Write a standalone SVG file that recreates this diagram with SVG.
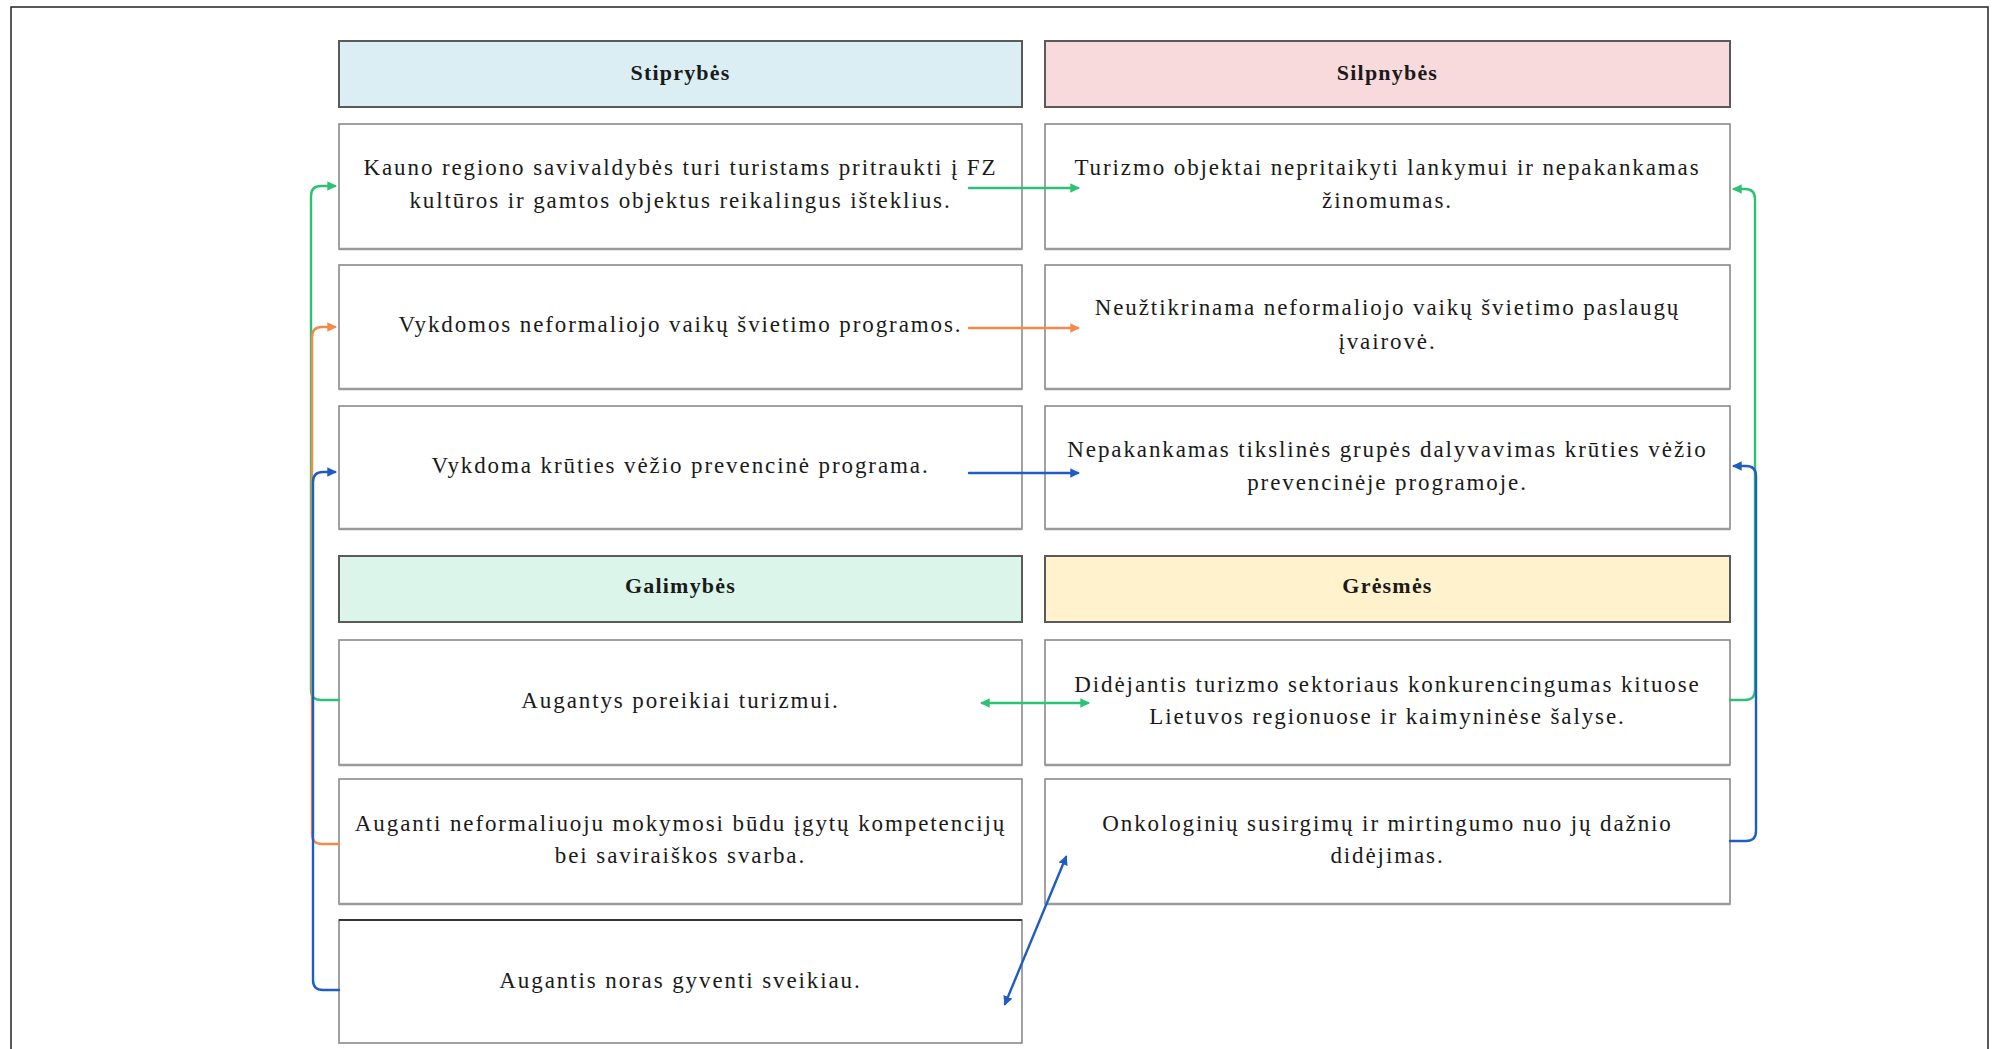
<svg xmlns="http://www.w3.org/2000/svg" width="2000" height="1049" viewBox="0 0 2000 1049">
<style>
.box{fill:#ffffff;stroke:#8a8a8a;stroke-width:1.6}
.shadow{stroke:#9a9a9a;stroke-width:2.5}
.hdr{stroke:#5a5a5a;stroke-width:2}
.t{font-family:"Liberation Serif","Times New Roman",serif;font-size:23px;letter-spacing:1.9px;fill:#1a1a1a;text-anchor:middle}
.h{font-family:"Liberation Serif","Times New Roman",serif;font-size:22px;letter-spacing:1.2px;font-weight:bold;fill:#1a1a1a;text-anchor:middle}
.c{fill:none;stroke-width:2.4;stroke-linecap:round;stroke-linejoin:round}
.g{stroke:#2cc275}
.o{stroke:#f5894a}
.b{stroke:#1f5cc4}
</style>
<defs>
<marker id="ag" viewBox="0 0 10 10" refX="8" refY="5" markerWidth="4" markerHeight="4" orient="auto-start-reverse" markerUnits="strokeWidth"><path d="M0,0 L10,5 L0,10 z" fill="#2cc275"/></marker>
<marker id="ao" viewBox="0 0 10 10" refX="8" refY="5" markerWidth="4" markerHeight="4" orient="auto-start-reverse" markerUnits="strokeWidth"><path d="M0,0 L10,5 L0,10 z" fill="#f5894a"/></marker>
<marker id="ab" viewBox="0 0 10 10" refX="8" refY="5" markerWidth="4" markerHeight="4" orient="auto-start-reverse" markerUnits="strokeWidth"><path d="M0,0 L10,5 L0,10 z" fill="#1f5cc4"/></marker>
</defs>
<rect width="2000" height="1049" fill="#ffffff"/>
<g id="frame" stroke="#222" stroke-width="1.5" fill="none">
<path d="M11 1049 V7 H1988 V1049"/>
</g>

<g id="h-stiprybes"><rect class="hdr" x="339" y="41" width="683" height="66" fill="#dbeef4"/><text class="h" x="680.5" y="80">Stiprybės</text></g>
<g id="h-silpnybes"><rect class="hdr" x="1045" y="41" width="685" height="66" fill="#f9dadc"/><text class="h" x="1387.5" y="80">Silpnybės</text></g>
<g id="h-galimybes"><rect class="hdr" x="339" y="556" width="683" height="66" fill="#dbf5ea"/><text class="h" x="680.5" y="593">Galimybės</text></g>
<g id="h-gresmes"><rect class="hdr" x="1045" y="556" width="685" height="66" fill="#fff2cc"/><text class="h" x="1387.5" y="593">Grėsmės</text></g>

<g id="s1"><rect class="box" x="339" y="124" width="683" height="125"/><line class="shadow" x1="339" y1="249" x2="1022" y2="249"/><text class="t" x="680.5" y="175">Kauno regiono savivaldybės turi turistams pritraukti į FZ</text><text class="t" x="680.5" y="208">kultūros ir gamtos objektus reikalingus išteklius.</text></g>
<g id="s2"><rect class="box" x="339" y="265" width="683" height="124"/><line class="shadow" x1="339" y1="389" x2="1022" y2="389"/><text class="t" x="680.5" y="332">Vykdomos neformaliojo vaikų švietimo programos.</text></g>
<g id="s3"><rect class="box" x="339" y="406" width="683" height="123"/><line class="shadow" x1="339" y1="529" x2="1022" y2="529"/><text class="t" x="680.5" y="473">Vykdoma krūties vėžio prevencinė programa.</text></g>

<g id="w1"><rect class="box" x="1045" y="124" width="685" height="125"/><line class="shadow" x1="1045" y1="249" x2="1730" y2="249"/><text class="t" x="1387.5" y="175">Turizmo objektai nepritaikyti lankymui ir nepakankamas</text><text class="t" x="1387.5" y="208">žinomumas.</text></g>
<g id="w2"><rect class="box" x="1045" y="265" width="685" height="124"/><line class="shadow" x1="1045" y1="389" x2="1730" y2="389"/><text class="t" x="1387.5" y="315">Neužtikrinama neformaliojo vaikų švietimo paslaugų</text><text class="t" x="1387.5" y="349">įvairovė.</text></g>
<g id="w3"><rect class="box" x="1045" y="406" width="685" height="123"/><line class="shadow" x1="1045" y1="529" x2="1730" y2="529"/><text class="t" x="1387.5" y="457">Nepakankamas tikslinės grupės dalyvavimas krūties vėžio</text><text class="t" x="1387.5" y="490">prevencinėje programoje.</text></g>

<g id="o1"><rect class="box" x="339" y="640" width="683" height="125"/><line class="shadow" x1="339" y1="765" x2="1022" y2="765"/><text class="t" x="680.5" y="708">Augantys poreikiai turizmui.</text></g>
<g id="o2"><rect class="box" x="339" y="779" width="683" height="125"/><line class="shadow" x1="339" y1="904" x2="1022" y2="904"/><text class="t" x="680.5" y="831">Auganti neformaliuoju mokymosi būdu įgytų kompetencijų</text><text class="t" x="680.5" y="863">bei saviraiškos svarba.</text></g>
<g id="o3"><rect class="box" x="339" y="920" width="683" height="123"/><line x1="339" y1="920" x2="1022" y2="920" stroke="#333" stroke-width="2"/><text class="t" x="680.5" y="988">Augantis noras gyventi sveikiau.</text></g>

<g id="t1"><rect class="box" x="1045" y="640" width="685" height="125"/><line class="shadow" x1="1045" y1="765" x2="1730" y2="765"/><text class="t" x="1387.5" y="692">Didėjantis turizmo sektoriaus konkurencingumas kituose</text><text class="t" x="1387.5" y="724">Lietuvos regionuose ir kaimyninėse šalyse.</text></g>
<g id="t2"><rect class="box" x="1045" y="779" width="685" height="125"/><line class="shadow" x1="1045" y1="904" x2="1730" y2="904"/><text class="t" x="1387.5" y="831">Onkologinių susirgimų ir mirtingumo nuo jų dažnio</text><text class="t" x="1387.5" y="863">didėjimas.</text></g>

<g id="connectors">
<path class="c g" d="M339 700 H321 Q311 700 311 690 V196 Q311 186 321 186 H335" marker-end="url(#ag)"/>
<path class="c o" d="M339 844 H322 Q312 844 312 834 V337 Q312 327 322 327 H335" marker-end="url(#ao)"/>
<path class="c b" d="M339 990 H323 Q313 990 313 980 V482 Q313 472 323 472 H335" marker-end="url(#ab)"/>
<path class="c g" d="M1730 700 H1745 Q1755 700 1755 690 V199 Q1755 189 1745 189 H1734" marker-end="url(#ag)"/>
<path class="c b" d="M1730 841 H1746 Q1756 841 1756 831 V476 Q1756 466 1746 466 H1734" marker-end="url(#ab)"/>
<path class="c g" d="M969 188 H1078" marker-end="url(#ag)"/>
<path class="c o" d="M969 328 H1078" marker-end="url(#ao)"/>
<path class="c b" d="M969 473 H1078" stroke-width="3" marker-end="url(#ab)"/>
<path class="c g" d="M982 703 H1088" marker-start="url(#ag)" marker-end="url(#ag)"/>
<path class="c b" d="M1005 1004 L1066 857" marker-start="url(#ab)" marker-end="url(#ab)"/>
</g>
</svg>
